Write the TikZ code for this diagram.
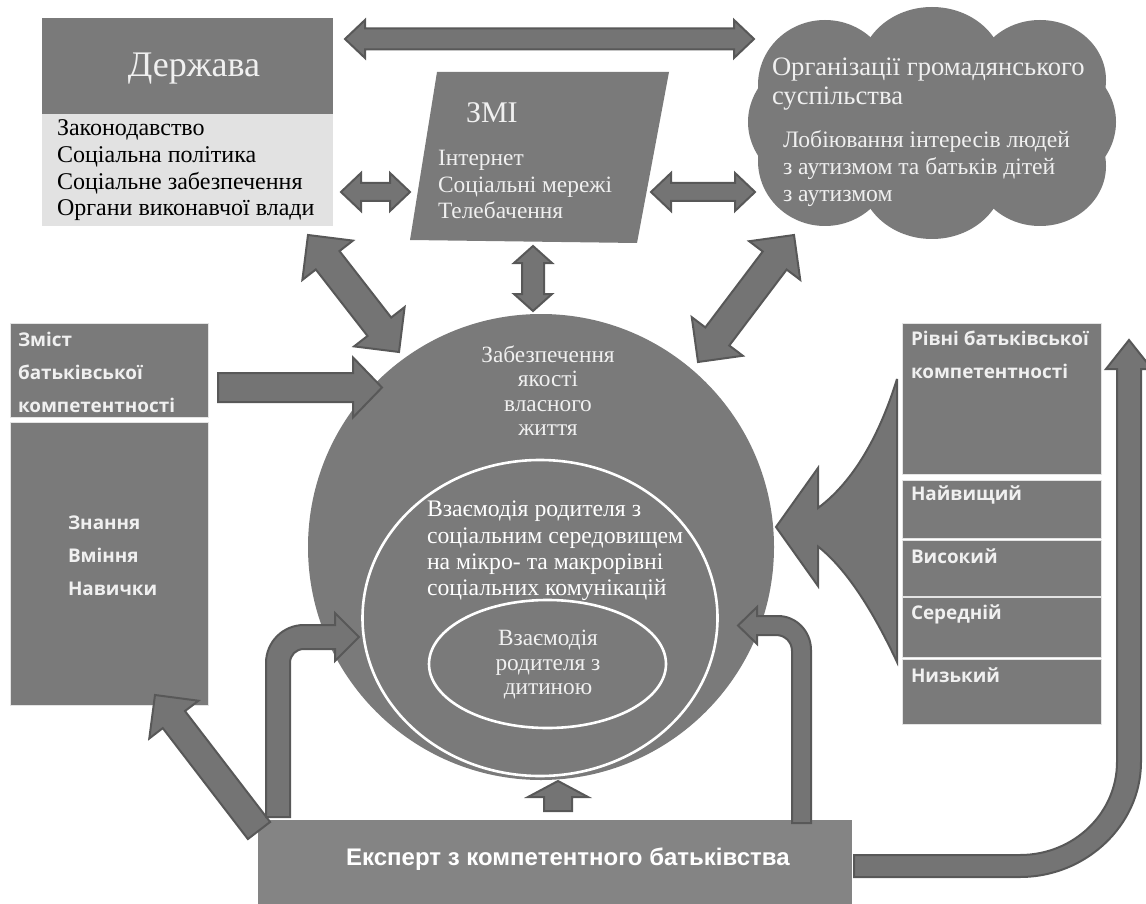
\documentclass[tikz,border=0pt]{standalone}
\usepackage{fontspec}
\setmainfont{Liberation Serif}
\newfontfamily\opensans{Open Sans}
\newfontfamily\arialish{Liberation Sans}
\usetikzlibrary{calc,shapes.geometric}
\definecolor{boxgray}{HTML}{7A7A7A}
\definecolor{expertgray}{HTML}{848484}
\definecolor{arrowfill}{HTML}{747474}
\definecolor{arrowline}{HTML}{585858}
\definecolor{lightpanel}{HTML}{E2E2E2}
\definecolor{softwhite}{HTML}{F0F0F0}
\tikzset{
  box/.style={draw=none,fill=boxgray,anchor=north west,inner sep=0pt,outer sep=0pt},
  wbox/.style={box,draw=white!80!boxgray,line width=0.8pt},
  blockarrow/.style={fill=arrowfill,draw=arrowline,line width=2pt,line join=miter,miter limit=6},
  serif/.style={text=softwhite,inner sep=0pt,outer sep=0pt,align=left,anchor=west},
  headtxt/.style={text=softwhite,inner sep=0pt,outer sep=0pt,align=left,anchor=west,
    font=\opensans\bfseries\fontsize{18.9}{33}\selectfont},
}
% #1 #2 end names, #3 half shaft, #4 half head, #5 head length
\newcommand{\twowayarrow}[5]{%
  \coordinate (ha) at ($(#1)!#5!(#2)$);
  \coordinate (hb) at ($(#2)!#5!(#1)$);
  \draw[blockarrow] (#1) -- ($(ha)!#4!90:(#2)$) -- ($(ha)!#3!90:(#2)$)
    -- ($(hb)!#3!-90:(#1)$) -- ($(hb)!#4!-90:(#1)$) -- (#2)
    -- ($(hb)!#4!90:(#1)$) -- ($(hb)!#3!90:(#1)$)
    -- ($(ha)!#3!-90:(#2)$) -- ($(ha)!#4!-90:(#2)$) -- cycle;
}
% #1 start, #2 tip
\newcommand{\onewayarrow}[5]{%
  \coordinate (hb) at ($(#2)!#5!(#1)$);
  \draw[blockarrow] ($(#1)!#3!-90:(#2)$) -- ($(hb)!#3!90:(#1)$) -- ($(hb)!#4!90:(#1)$)
    -- (#2) -- ($(hb)!#4!-90:(#1)$) -- ($(hb)!#3!-90:(#1)$) -- ($(#1)!#3!90:(#2)$) -- cycle;
}
\begin{document}
\begin{tikzpicture}[x=1pt,y=-1pt]
\path[use as bounding box,fill=white] (0,0) rectangle (1146,904);

% State
\node[box,minimum width=291pt,minimum height=96pt] (statehead) at (42,18) {};
\node[box,fill=lightpanel,minimum width=291pt,minimum height=112pt] (statelist) at (42,114) {};
\node[serif,anchor=center,font=\fontsize{36}{40}\selectfont] (statetitle) at (194,69) {Держава};
\node[serif,text=black,font=\fontsize{24}{26.7}\selectfont] (statetext) at (57,170.5)
  {Законодавство\\Соціальна політика\\Соціальне забезпечення\\Органи виконавчої влади};

% Media
\fill[boxgray] (437,72) -- (669,72) -- (637,243) -- (410,240) -- cycle;
\coordinate (media) at (540,157);
\node[serif,font=\fontsize{30}{34}\selectfont] (mediatitle) at (466,113) {ЗМІ};
\node[serif,font=\fontsize{23.4}{26.4}\selectfont] (medialist) at (438,184.5)
  {Інтернет\\Соціальні мережі\\Телебачення};

% Civil society cloud
\fill[boxgray] (825,85) ellipse[x radius=67,y radius=65];
\fill[boxgray] (932,70) ellipse[x radius=72,y radius=63];
\fill[boxgray] (1040,80) ellipse[x radius=66,y radius=60];
\fill[boxgray] (830,122) ellipse[x radius=82,y radius=70];
\fill[boxgray] (1034,122) ellipse[x radius=82,y radius=70];
\fill[boxgray] (825,161) ellipse[x radius=67,y radius=65];
\fill[boxgray] (932,176) ellipse[x radius=72,y radius=63];
\fill[boxgray] (1040,166) ellipse[x radius=66,y radius=60];
\fill[boxgray] (830,60) rectangle (1040,190);
\coordinate (cloud) at (932,123);
\node[serif,font=\fontsize{26.6}{29}\selectfont] (cloudtitle) at (772,84)
  {Організації громадянського\\суспільства};
\node[serif,font=\fontsize{23.6}{27}\selectfont] (cloudtext) at (783,169)
  {Лобіювання інтересів людей\\з аутизмом та батьків дітей\\з аутизмом};

% Content of competence
\node[wbox,minimum width=198pt,minimum height=94pt] (contenthead) at (10,323) {};
\node[wbox,minimum width=198pt,minimum height=283pt] (contentbody) at (10,422) {};
\node[headtxt] (contenttxt) at (18,372) {Зміст\\батьківської\\компетентності};
\node[headtxt] (skills) at (68,556) {Знання\\Вміння\\Навички};

% Levels
\node[wbox,minimum width=199pt,minimum height=151pt] (levelhead) at (902,323) {};
\node[wbox,minimum width=199pt,minimum height=58pt] (lvlA) at (902,480) {};
\node[wbox,minimum width=199pt,minimum height=56pt] (lvlB) at (902,540) {};
\node[wbox,minimum width=199pt,minimum height=60pt] (lvlC) at (902,597) {};
\node[wbox,minimum width=199pt,minimum height=65pt] (lvlD) at (902,659) {};
\node[headtxt] (leveltxt) at (911,355) {Рівні батьківської\\компетентності};
\node[headtxt] (lvlAt) at (911,495) {Найвищий};
\node[headtxt] (lvlBt) at (911,556) {Високий};
\node[headtxt] (lvlCt) at (911,614.5) {Середній};
\node[headtxt] (lvlDt) at (911,675.5) {Низький};

% Central circle
\node[circle,fill=boxgray,minimum size=466pt,inner sep=0pt,outer sep=0pt] (life) at (541,547) {};
\node[ellipse,draw=white,line width=2.6pt,minimum width=355pt,minimum height=316pt,inner sep=0pt] (social) at (540,618) {};
\node[ellipse,draw=white,line width=2.6pt,minimum width=237pt,minimum height=128pt,inner sep=0pt] (child) at (547.5,664) {};
\node[serif,align=center,anchor=center,font=\fontsize{23.3}{24.4}\selectfont] (lifetxt) at (548,390.5)
  {Забезпечення\\якості\\власного\\життя};
\node[serif,text=white,font=\fontsize{23.7}{26.4}\selectfont] (socialtxt) at (427,551)
  {Взаємодія родителя з\\соціальним середовищем\\на мікро- та макрорівні\\соціальних комунікацій};
\node[serif,align=center,anchor=center,font=\fontsize{23.3}{24.5}\selectfont] (childtxt) at (548,665)
  {Взаємодія\\родителя з\\дитиною};

% Expert
\node[box,fill=expertgray,minimum width=594pt,minimum height=84pt] (expert) at (258,820) {};
\node[text=white,inner sep=0pt,anchor=west,font=\arialish\bfseries\fontsize{24}{28}\selectfont] (experttxt) at (346,859)
  {Експерт з компетентного батьківства};

% End points of the block arrows
\coordinate (t1) at (345,39);   \coordinate (t2) at (754,39);
\coordinate (m1) at (341,192);  \coordinate (m2) at (410,192);
\coordinate (n1) at (651,192);  \coordinate (n2) at (755,192);
\coordinate (d1) at (308,235);  \coordinate (d2) at (399,352);
\coordinate (v1) at (533,246);  \coordinate (v2) at (533,311);
\coordinate (e1) at (794,235);  \coordinate (e2) at (698,362);
\coordinate (c1) at (218,387.5);\coordinate (c2) at (382,387.5);
\coordinate (x1) at (259,830.5);\coordinate (x2) at (155,695);
\coordinate (u1) at (558,811);  \coordinate (u2) at (558,781);

\twowayarrow{t1}{t2}{10.5pt}{19pt}{20pt}
\twowayarrow{m1}{m2}{9pt}{19pt}{20pt}
\twowayarrow{n1}{n2}{9pt}{19pt}{20pt}
\twowayarrow{d1}{d2}{15pt}{32pt}{32pt}
\twowayarrow{v1}{v2}{11pt}{19pt}{17pt}
\twowayarrow{e1}{e2}{15pt}{32pt}{32pt}
\onewayarrow{c1}{c2}{14.5pt}{30pt}{29pt}
\onewayarrow{x1}{x2}{14pt}{31pt}{31pt}
\onewayarrow{u1}{u2}{14pt}{30pt}{16pt}

% Bent arrow, left
\draw[blockarrow] (266,817) -- (266,663) .. controls (266,642) and (283,625) .. (304,625)
  -- (335,625) -- (335,613) -- (359,637) -- (335,661) -- (335,649) -- (304,649)
  .. controls (296,649) and (290,655) .. (290,663) -- (290,817) -- cycle;
% Bent arrow, right
\draw[blockarrow] (792,823) -- (792,651) .. controls (792,642) and (785,635) .. (776,635)
  -- (757,635) -- (757,644) -- (738,625.5) -- (757,607) -- (757,616) -- (778,616)
  .. controls (796,616) and (811,631) .. (811,650) -- (811,823) -- cycle;
% Long arrow, right
\draw[blockarrow] (854,855) -- (1020,855) .. controls (1074,855) and (1117,813) .. (1117,762)
  -- (1117,369) -- (1106,369) -- (1129,340) -- (1152,369) -- (1141,369) -- (1141,762)
  .. controls (1141,825) and (1086,877) .. (1020,877) -- (854,877) -- cycle;
% Funnel arrow
\draw[blockarrow] (776,527) -- (818,468) -- (818,508) .. controls (845,488) and (875,450) .. (897,379)
  -- (897,662) .. controls (875,615) and (848,570) .. (818,546.5) -- (818,586) -- cycle;
\end{tikzpicture}
\end{document}
